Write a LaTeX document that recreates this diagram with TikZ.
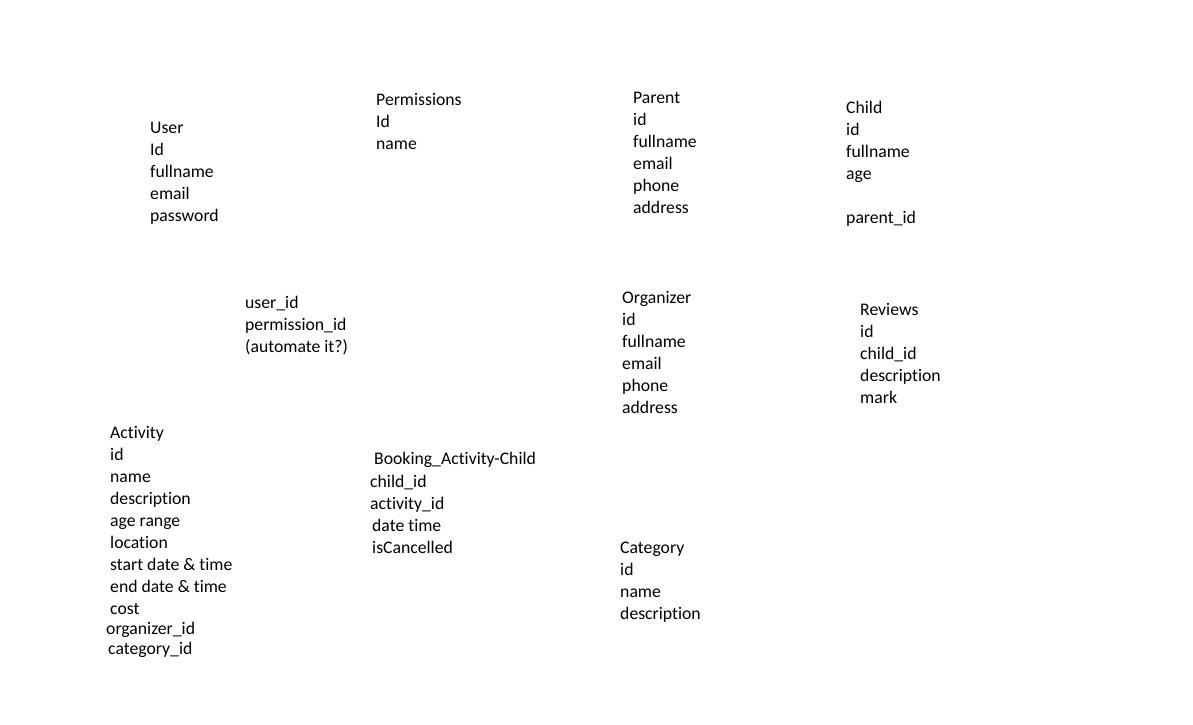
\documentclass[tikz,border=0pt]{standalone}
\usepackage{fontspec}
\setmainfont{Carlito}[Ligatures=CommonOff]
\usepackage{tikz}
\usetikzlibrary{positioning}
\tikzset{table/.style={anchor=north west, inner sep=0pt, align=left,
    font=\fontsize{17.7}{22}\selectfont, execute at begin node=\strut}}

\begin{document}
\begin{tikzpicture}[x=1pt,y=-1pt]

    \useasboundingbox [fill=white] (0,0) rectangle (1193,724);

	% top row
	\node [table] (user) at (150,122) {User\\Id\\fullname\\email\\password};
	\node [table] (permissions) at (376,93) {Permissions\\Id\\name};
	\node [table] (parent) at (633,92) {Parent\\id\\fullname\\email\\phone\\address};
	\node [table] (child) at (846,101) {Child\\id\\fullname\\age\\\mbox{}\\parent\_id};

	% middle row
	\node [table] (userperm) at (245,296) {user\_id\\permission\_id\\(automate it?)};
	\node [table] (organizer) at (622,291) {Organizer\\id\\fullname\\email\\phone\\address};
	\node [table] (reviews) at (860,303) {Reviews\\id\\child\_id\\description\\mark};

	% bottom row
	\node [table] (activity) at (110,426) {Activity\\id\\name\\description\\age range\\location\\start date \& time\\end date \& time\\cost\\[-2pt]\hspace*{-4pt}organizer\_id\\[-2pt]\hspace*{-2pt}category\_id};
	\node [table] (booking) at (370,452) {\hspace*{4pt}Booking\_Activity-Child\\[1pt]child\_id\\activity\_id\\\hspace*{2pt}date time\\\hspace*{2pt}isCancelled};
	\node [table] (category) at (620,542) {Category\\id\\name\\description};

\end{tikzpicture}
\end{document}
